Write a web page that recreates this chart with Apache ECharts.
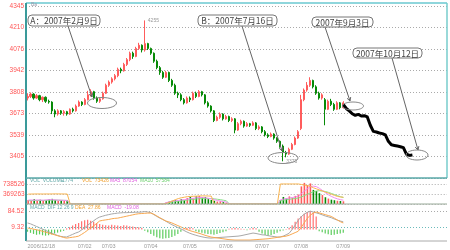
<!DOCTYPE html>
<html><head><meta charset="utf-8">
<script src="https://cdn.jsdelivr.net/npm/echarts@6/dist/echarts.min.js"></script>
<style>html,body{margin:0;padding:0;background:#fff}#c{width:450px;height:250px}</style>
</head><body><div id="c"></div>
<script>
// ---------- data ----------
const slotCount = 140;
const slots = Array.from({length: slotCount}, (_, i) => String(i));

// [open, close, lowest, highest]
const candles = [
[3770,3780,3755,3800],[3780,3795,3770,3805],[3795,3770,3760,3800],[3770,3785,3765,3795],[3785,3760,3750,3790],
[3760,3775,3745,3780],[3775,3750,3740,3780],[3750,3745,3735,3760],[3745,3690,3670,3750],[3690,3670,3650,3700],
[3670,3690,3660,3700],[3690,3675,3665,3695],[3675,3685,3660,3695],[3685,3670,3660,3690],[3670,3700,3665,3705],
[3700,3690,3680,3710],[3690,3720,3685,3730],[3720,3745,3715,3755],[3745,3730,3720,3750],[3730,3760,3725,3770],
[3760,3790,3755,3815],[3790,3810,3780,3825],[3810,3770,3760,3815],[3770,3750,3740,3780],[3750,3765,3740,3775],
[3765,3800,3760,3810],[3800,3850,3795,3860],[3850,3870,3840,3880],[3870,3890,3860,3900],[3890,3910,3880,3920],
[3910,3950,3900,3960],[3950,3940,3925,3960],[3940,3980,3935,3990],[3980,4010,3970,4020],[4010,4050,4000,4060],
[4050,4030,4015,4060],[4030,4080,4025,4090],[4080,4100,4070,4115],[4100,4070,4055,4105],[4070,4110,4060,4255],
[4110,4080,4070,4115],[4080,4050,4040,4085],[4050,4000,3990,4055],[4000,3960,3950,4010],[3960,3930,3915,3970],
[3930,3900,3890,3940],[3900,3930,3895,3940],[3930,3880,3870,3935],[3880,3850,3840,3890],[3850,3800,3790,3860],
[3800,3790,3770,3810],[3790,3760,3750,3800],[3760,3740,3730,3770],[3740,3770,3735,3780],[3770,3760,3745,3780],
[3760,3800,3755,3810],[3800,3780,3770,3810],[3780,3810,3775,3820],[3810,3790,3780,3815],[3790,3740,3730,3795],
[3740,3720,3710,3750],[3720,3690,3680,3725],[3690,3630,3620,3695],[3630,3650,3625,3660],[3650,3670,3640,3680],
[3670,3640,3630,3675],[3640,3655,3635,3665],[3655,3630,3620,3660],[3630,3640,3620,3650],[3640,3570,3550,3645],
[3570,3610,3565,3620],[3610,3625,3600,3635],[3625,3595,3585,3630],[3595,3610,3590,3620],[3610,3600,3590,3615],
[3600,3615,3595,3625],[3615,3580,3570,3620],[3580,3590,3570,3600],[3590,3560,3550,3595],[3560,3540,3530,3570],
[3540,3530,3520,3550],[3530,3545,3525,3555],[3545,3520,3510,3550],[3520,3500,3490,3525],[3500,3470,3460,3505],
[3470,3430,3375,3480],[3430,3420,3400,3440],[3420,3450,3415,3460],[3450,3480,3445,3490],[3480,3520,3475,3530],
[3520,3560,3515,3570],[3580,3760,3570,3790],[3760,3820,3750,3830],[3820,3850,3810,3870],[3850,3880,3840,3900],
[3880,3840,3830,3885],[3840,3800,3790,3850],[3800,3770,3760,3810],[3770,3790,3760,3800],[3760,3700,3600,3770],
[3700,3750,3695,3760],[3750,3730,3720,3765],[3730,3700,3690,3740],[3700,3740,3695,3750],[3740,3710,3700,3745],
[3710,3740,3705,3750]
];

// hand-drawn projected path (black), starting at slot 105
const projectionStart = 105;
const projection = [3730,3705,3690,3672,3662,3668,3658,3660,3652,3600,3562,3558,3552,3548,3540,3500,3478,3474,3470,3466,3460,3420,3412,3415];

const volume = [
150000,120000,180000,110000,160000,130000,140000,170000,190000,150000,120000,140000,110000,130000,
0,0,0,0,0,0,0,0,0,0,0,0,0,0,0,0,0,0,0,0,0,0,0,0,0,0,0,0,0,0,0,0,
60000,90000,120000,150000,110000,180000,140000,220000,260000,200000,280000,300000,240000,260000,180000,150000,120000,90000,100000,70000,50000,
0,0,0,0,0,0,0,0,0,0,0,0,0,0,0,0,0,
150000,260000,200000,280000,230000,300000,350000,650000,780000,700000,760000,520000,480000,400000,330000,250000,200000,160000,140000,120000,110000,100000
];
const volLineA = [
365000,368000,370000,372000,370000,369000,371000,370000,372000,374000,373000,372000,370000,369000,
0,0,0,0,0,0,0,0,0,0,0,0,0,0,0,0,0,0,0,0,0,0,0,0,0,0,0,0,0,0,0,0,
20000,60000,110000,160000,200000,230000,250000,270000,280000,285000,290000,295000,300000,300000,295000,290000,
0,0,0,0,0,0,0,0,0,0,0,0,0,0,0,0,0,0,0,0,0,0,
740000,740000,740000,740000,740000,740000,740000,720000,700000,680000,650000,600000,560000,520000,480000,440000,400000,360000,320000,280000,260000,250000
];
const volLineMA5 = [
140000,150000,140000,150000,145000,140000,150000,160000,160000,150000,145000,140000,135000,130000,
0,0,0,0,0,0,0,0,0,0,0,0,0,0,0,0,0,0,0,0,0,0,0,0,0,0,0,0,0,0,0,0,
50000,80000,100000,120000,130000,150000,160000,180000,200000,210000,230000,240000,240000,230000,210000,190000,160000,130000,110000,90000,70000,
0,0,0,0,0,0,0,0,0,0,0,0,0,0,0,0,0,
150000,180000,200000,220000,240000,260000,290000,380000,480000,560000,640000,660000,640000,580000,500000,420000,340000,280000,230000,190000,160000,140000
];
const volLineMA10 = [
120000,125000,128000,130000,130000,132000,135000,138000,140000,142000,140000,138000,135000,132000,
0,0,0,0,0,0,0,0,0,0,0,0,0,0,0,0,0,0,0,0,0,0,0,0,0,0,0,0,0,0,0,0,
30000,50000,70000,90000,100000,115000,130000,145000,160000,170000,185000,195000,200000,205000,205000,200000,190000,175000,160000,140000,120000,
0,0,0,0,0,0,0,0,0,0,0,0,0,0,0,0,0,
120000,140000,160000,175000,190000,205000,220000,260000,310000,360000,410000,450000,480000,490000,480000,460000,430000,390000,350000,310000,270000,240000
];

const dif = [30,26,20,14,8,2,-4,-10,-16,-22,-27,-31,-33,-34,-28,-22,-16,-11,-2,8,20,30,40,50,57,61,65,68,71,73,
75,76,77,77,78,78,79,79,80,82,80,77,68,60,52,46,38,30,22,16,9,3,-4,-11,-17,-22,-26,-30,-33,-36,
-38,-39,-38,-37,-36,-35,-34,-33,-32,-31,-30,-28,-25,-22,-19,-16,-18,-21,-24,-25,-28,-30,-32,-34,-34,-30,-24,-17,0,20,
42,58,70,78,84,80,76,72,67,62,58,54,48,43,39,35];
const dea = [7,5,2,-1,-4,-8,-12,-16,-20,-24,-28,-32,-36,-39,-37,-35,-33,-30,-22,-13,-3,7,17,28,39,42,44,46,49,51,
52,55,58,61,64,67,70,72,73,74,75,75,70,62,54,46,39,35,30,24,18,12,6,0,-5,-9,-13,-17,-21,-26,
-30,-34,-36,-38,-40,-42,-44,-46,-47,-48,-48,-48,-48,-48,-48,-47,-46,-45,-44,-43,-42,-40,-38,-36,-34,-32,-30,-26,-20,-14,
-8,10,30,50,65,75,80,76,72,68,64,60,52,44,36,30];
const macdHist = [-10,-15,-20,-24,-22,-26,-28,-26,-22,-18,-14,-10,-6,
5,10,18,25,30,38,42,45,40,36,30,25,
22,20,18,22,20,18,16,20,18,15,14,12,10,8,
-5,-12,-20,-28,-35,-40,-42,-40,-38,-34,-28,-20,-10,
5,8,10,6,
-8,-12,-15,-18,-20,-22,-24,-20,-16,-12,-8,
4,6,8,6,4,2,-3,
5,8,6,
-10,-18,-25,-28,-25,-20,-15,
-8,-4,2,8,
20,35,50,62,72,80,84,78,60,
-8,-12,-18,-22,-25,-24,-20,-18,-15];

const priceTickValues = [4345,4210,4076,3942,3808,3673,3539,3405];
const priceTickLabels = ['4345','4210','4076','3942','3808','3673','3539','3405'];
const volTickValues = [369263,738526];
const volTickLabels = ['369263','738526'];
const macdTickValues = [9.32,84.52];
const macdTickLabels = ['9.32','84.52'];
const dateTickSlots = [0,19,27,41,54,66,78,91,105];
const dateTickLabels = ['2006/12/18','07/02','07/03','07/04','07/05','07/06','07/07','07/08','07/09'];
const calloutTexts = ['A：2007年2月9日','B：2007年7月16日','2007年9月3日','2007年10月12日'];

// ---------- chart ----------
const UP = '#ff5c5c', DOWN = '#078a07';
const PRICE_STEP = 940/7, PRICE_MIN = 3405 - PRICE_STEP, PRICE_MAX = 4363.7;

function labeler(vals, labs, tol){
  return function(v){ for (let j=0;j<vals.length;j++){ if (Math.abs(v-vals[j])<tol) return labs[j]; } return ''; };
}
const projData = slots.map((s,i) => (i>=projectionStart && i<projectionStart+projection.length) ? projection[i-projectionStart] : null);
const volData = volume.map((v,i) => ({value:v, itemStyle:{color: candles[i][1] >= candles[i][0] ? UP : DOWN}}));
const histData = macdHist.map(v => ({value:v, itemStyle:{color: v >= 0 ? '#ff7070' : '#5ccc5c'}}));

function xAx(grid, showLabels){
  return {
    gridIndex:grid, type:'category', data:slots, boundaryGap:true,
    axisLine:{show:false}, axisTick:{show:false}, splitLine:{show:false},
    axisLabel: showLabels ? {
      show:true, fontSize:5.5, color:'#999', margin:3, alignMinLabel:'left',
      interval:(idx)=> dateTickSlots.indexOf(idx) >= 0,
      formatter:(val, idx)=> { const k = dateTickSlots.indexOf(idx); return k>=0 ? dateTickLabels[k] : ''; }
    } : {show:false}
  };
}

const LINE = (pts, color, w) => ({type:'polyline', silent:true, z:100, shape:{points:pts}, style:{stroke:color, lineWidth:w||1, fill:null}});
function arrowHead(x0,y0,x1,y1){
  const a = Math.atan2(y1-y0, x1-x0), L = 4, w = 0.5;
  return LINE([[x1-L*Math.cos(a-w), y1-L*Math.sin(a-w)],[x1,y1],[x1-L*Math.cos(a+w), y1-L*Math.sin(a+w)]], '#666', 1);
}
function txt(x,y,t,color,size,family,align){
  return {type:'text', silent:true, z:101, x:x, y:y, style:{text:t, fill:color, fontSize:size, fontFamily:family||'Liberation Sans', align:align||'left', verticalAlign:'middle'}};
}
const callGeo = [
  {box:[28,15,72,11], from:[68,26], to:[92,97], ell:[102,103,14.5,5.5]},
  {box:[198,15,79,11], from:[242,26], to:[282,151], ell:[283,158,15,5.5]},
  {box:[312,17,61,10], from:[325,27], to:[350,101], ell:[353,106,10.5,4]},
  {box:[353,48,69,10], from:[392,58], to:[418,150], ell:[417,155,11,5]}
];
const graphics = [
  LINE([[26,3],[447,3]], '#8fd6dc', 2),
  LINE([[26,3],[26,241]], '#3a9a9a', 2),
  LINE([[447,3],[447,178]], '#7cc', 1.5),
  LINE([[26,178],[447,178]], '#5aaaaa', 1.5),
  LINE([[26,204],[447,204]], '#9a9', 1),
  LINE([[26,241],[447,241]], '#aaa', 1),
  txt(31,5,'Ba','#99a',5),
  txt(30,180.5,'VOL  VOLUME','#6aa',5),
  txt(62,180.5,'1774','#6aa',5),
  txt(82,180.5,'VOL  73426','#f0a030',5),
  txt(110,180.5,'MA5  87054','#e060e0',5),
  txt(140,180.5,'MA10  57584','#70d070',5),
  txt(30,207.5,'MACD  DIF 12 26 9','#6aa',5),
  txt(75,207.5,'DEA  27.86','#f0a030',5),
  txt(107,207.5,'MACD  -19.08','#e060e0',5)
];
callGeo.forEach((g,k)=>{
  graphics.push(LINE([g.from, g.to], '#666', 1));
  graphics.push(arrowHead(g.from[0], g.from[1], g.to[0], g.to[1]));
  graphics.push({type:'ellipse', silent:true, z:100, shape:{cx:g.ell[0], cy:g.ell[1], rx:g.ell[2], ry:g.ell[3]}, style:{stroke:'#888', fill:null, lineWidth:1}});
  graphics.push({type:'rect', silent:true, z:102, shape:{x:g.box[0], y:g.box[1], width:g.box[2], height:g.box[3], r:4}, style:{fill:'#fff', stroke:'#777', lineWidth:1}});
  graphics.push({type:'text', silent:true, z:103, x:g.box[0]+g.box[2]/2, y:g.box[1]+g.box[3]/2+0.5,
    style:{text:calloutTexts[k], fill:'#444', fontSize:8.5, fontFamily:'"Noto Sans CJK SC"', align:'center', verticalAlign:'middle'}});
});

const chart = echarts.init(document.getElementById('c'), null, {renderer:'canvas'});
chart.setOption({
  animation:false,
  backgroundColor:'#fff',
  textStyle:{fontFamily:'Liberation Sans'},
  grid:[
    {left:26, right:3, top:3, height:175},
    {left:26, right:3, top:178, height:26},
    {left:26, right:3, top:204.4, height:36.3}
  ],
  xAxis:[xAx(0,false), xAx(1,false), xAx(2,true)],
  yAxis:[
    {gridIndex:0, type:'value', min:PRICE_MIN, max:PRICE_MAX, interval:PRICE_STEP,
     axisLine:{show:false}, axisTick:{show:false},
     axisLabel:{fontSize:6.5, color:'#f55', margin:2, formatter:labeler(priceTickValues, priceTickLabels, 1)},
     splitLine:{show:true, lineStyle:{color:'#aaa', type:[1,2], width:1}}},
    {gridIndex:1, type:'value', min:0, max:960084, interval:369263,
     axisLine:{show:false}, axisTick:{show:false},
     axisLabel:{fontSize:6.5, color:'#f55', margin:2, formatter:labeler(volTickValues, volTickLabels, 5)},
     splitLine:{show:true, lineStyle:{color:'#aaa', type:[1,2], width:1}}},
    {gridIndex:2, type:'value', min:-50.84, max:114.6, interval:15.04,
     axisLine:{show:false}, axisTick:{show:false},
     axisLabel:{fontSize:6.5, color:'#f55', margin:2, formatter:labeler(macdTickValues, macdTickLabels, 0.5)},
     splitLine:{show:false}}
  ],
  series:[
    {type:'candlestick', xAxisIndex:0, yAxisIndex:0, data:candles, barWidth:1.6,
     itemStyle:{color:UP, color0:DOWN, borderColor:UP, borderColor0:DOWN, borderWidth:1},
     markPoint:{symbol:'circle', symbolSize:0.1, silent:true,
       label:{show:true, position:'right', distance:3, fontSize:5, color:'#999', formatter:p=>String(p.value)},
       data:[{type:'max', valueDim:'highest'},{type:'min', valueDim:'lowest'}]}},
    {type:'line', xAxisIndex:0, yAxisIndex:0, data:projData, symbol:'none', connectNulls:false,
     lineStyle:{color:'#000', width:3, join:'round'}, z:5},
    {type:'bar', xAxisIndex:1, yAxisIndex:1, data:volData, barWidth:1.6},
    {type:'line', xAxisIndex:1, yAxisIndex:1, data:volLineMA10, symbol:'none', lineStyle:{color:'#88e088', width:1}},
    {type:'line', xAxisIndex:1, yAxisIndex:1, data:volLineMA5, symbol:'none', lineStyle:{color:'#f08cf0', width:1}},
    {type:'line', xAxisIndex:1, yAxisIndex:1, data:volLineA, symbol:'none', lineStyle:{color:'#f8b450', width:1}},
    {type:'bar', xAxisIndex:2, yAxisIndex:2, data:histData, barWidth:1.2,
     markLine:{silent:true, symbol:['none','none'], label:{show:false}, animation:false,
       lineStyle:{type:[1,2], width:1},
       data:[{yAxis:84.52, lineStyle:{color:'#aaa'}},{yAxis:9.32, lineStyle:{color:'#6bbbbb'}}]}},
    {type:'line', xAxisIndex:2, yAxisIndex:2, data:dif, symbol:'none', lineStyle:{color:'#a8a8a8', width:1}},
    {type:'line', xAxisIndex:2, yAxisIndex:2, data:dea, symbol:'none', lineStyle:{color:'#f8a850', width:1}}
  ],
  graphic:graphics
});
</script>
</body></html>
